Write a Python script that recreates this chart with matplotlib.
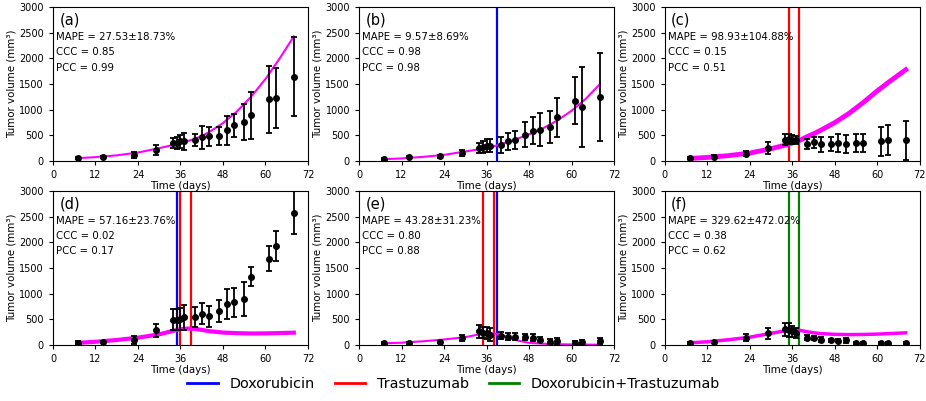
import matplotlib
matplotlib.use('Agg')
import matplotlib.pyplot as plt
from matplotlib.lines import Line2D

# measurement days (shared by all six groups)
days = [7, 14, 23, 29, 34, 35, 36, 37, 40, 42, 44, 47, 49, 51, 54, 56, 61, 63, 68]

mean_a = [65, 78, 110, 214, 351, 356, 382, 382, 415, 460, 479, 493, 596, 693, 760, 888, 1200, 1227, 1648]
sd_a = [20, 25, 60, 90, 104, 114, 127, 169, 117, 218, 179, 179, 286, 218, 347, 464, 659, 578, 779]
mean_b = [40, 78, 90, 155, 253, 273, 298, 298, 318, 382, 415, 512, 590, 610, 662, 849, 1175, 1052, 1247]
sd_b = [15, 20, 25, 55, 97, 114, 123, 130, 156, 169, 179, 240, 260, 318, 315, 386, 458, 779, 854]
mean_c = [52, 84, 143, 253, 415, 428, 415, 415, 337, 362, 323, 331, 351, 337, 351, 351, 382, 401, 401]
sd_c = [20, 25, 50, 110, 110, 100, 85, 80, 97, 107, 140, 136, 178, 175, 172, 172, 276, 292, 373]
mean_d = [46, 52, 98, 287, 489, 489, 503, 534, 542, 607, 554, 652, 796, 829, 894, 1325, 1683, 1924, 2577]
sd_d = [20, 20, 80, 125, 202, 205, 218, 235, 189, 202, 196, 215, 300, 277, 333, 186, 250, 295, 420]
mean_e = [33, 39, 59, 130, 261, 241, 228, 196, 176, 163, 163, 150, 143, 104, 59, 78, 39, 59, 72]
sd_e = [15, 15, 20, 60, 125, 110, 120, 130, 70, 75, 70, 60, 65, 55, 50, 65, 40, 45, 55]
mean_f = [39, 59, 143, 222, 300, 293, 261, 228, 143, 137, 104, 88, 85, 91, 33, 33, 33, 33, 33]
sd_f = [15, 15, 60, 110, 135, 130, 110, 100, 50, 45, 40, 35, 35, 50, 20, 15, 15, 15, 15]

# model curves
model_days = [7, 12, 18, 24, 30, 34, 36, 38, 40, 42, 44, 48, 52, 56, 60, 64, 68]
model_a = [55, 75, 110, 165, 250, 315, 350, 390, 430, 490, 560, 740, 970, 1260, 1600, 2000, 2430]
model_b = [35, 50, 80, 120, 185, 230, 255, 285, 330, 370, 415, 520, 640, 790, 980, 1210, 1500]
model_c = [50, 70, 105, 155, 240, 310, 350, 400, 470, 530, 600, 750, 930, 1140, 1370, 1580, 1780]
model_d = [40, 60, 95, 140, 205, 275, 305, 318, 312, 292, 268, 240, 228, 222, 224, 230, 238]
model_e = [30, 42, 70, 105, 150, 205, 225, 225, 200, 150, 95, 40, 22, 12, 8, 5, 3]
model_f = [40, 60, 100, 150, 225, 275, 300, 285, 258, 235, 220, 205, 200, 203, 210, 222, 235]

# treatment days: (day, drug)
treat_a = []
treat_b = [(39, 'dox')]
treat_c = [(35, 'tra'), (38, 'tra')]
treat_d = [(35, 'dox'), (36, 'tra'), (39, 'tra')]
treat_e = [(35, 'tra'), (38, 'tra'), (39, 'dox')]
treat_f = [(35, 'combo'), (38, 'combo')]

mape = ['27.53\u00b118.73%', '9.57\u00b18.69%', '98.93\u00b1104.88%',
        '57.16\u00b123.76%', '43.28\u00b131.23%', '329.62\u00b1472.02%']
ccc = ['0.85', '0.98', '0.15', '0.02', '0.80', '0.38']
pcc = ['0.99', '0.98', '0.51', '0.17', '0.88', '0.62']
letters = ['(a)', '(b)', '(c)', '(d)', '(e)', '(f)']

drug_color = {'dox': 'blue', 'tra': 'red', 'combo': 'green'}

means = [mean_a, mean_b, mean_c, mean_d, mean_e, mean_f]
sds = [sd_a, sd_b, sd_c, sd_d, sd_e, sd_f]
models = [model_a, model_b, model_c, model_d, model_e, model_f]
treats = [treat_a, treat_b, treat_c, treat_d, treat_e, treat_f]
model_lw = [1.5, 1.5, 3.5, 3, 1.5, 2.5]

fig = plt.figure(figsize=(9.26, 4.01), dpi=100)
lefts = [0.0572, 0.3877, 0.718]
bottoms = [0.5985, 0.140]
w, h = 0.2754, 0.3835

for i in range(6):
    ax = fig.add_axes([lefts[i % 3], bottoms[i // 3], w, h])
    for day, drug in treats[i]:
        ax.axvline(day, color=drug_color[drug], lw=1.6, zorder=1)
    ax.plot(model_days, models[i], color='magenta', lw=model_lw[i], zorder=2)
    ax.errorbar(days, means[i], yerr=sds[i], fmt='o', color='black', ms=4,
                elinewidth=1.3, capsize=2.5, capthick=1.3, zorder=3)
    ax.set_xlim(0, 72)
    ax.set_ylim(0, 3000)
    ax.set_xticks(range(0, 73, 12))
    ax.set_yticks(range(0, 3001, 500))
    ax.tick_params(labelsize=7, length=3)
    ax.set_xlabel('Time (days)', fontsize=7.4, labelpad=1)
    ax.set_ylabel('Tumor volume (mm\u00b3)', fontsize=7.4, labelpad=2)
    ax.text(0.025, 0.965, letters[i], transform=ax.transAxes, fontsize=10.5, va='top')
    ax.text(0.012, 0.84, 'MAPE = ' + mape[i], transform=ax.transAxes, fontsize=7.3, va='top')
    ax.text(0.012, 0.74, 'CCC = ' + ccc[i], transform=ax.transAxes, fontsize=7.3, va='top')
    ax.text(0.012, 0.64, 'PCC = ' + pcc[i], transform=ax.transAxes, fontsize=7.3, va='top')

handles = [Line2D([], [], color='blue', lw=2),
           Line2D([], [], color='red', lw=2),
           Line2D([], [], color='green', lw=2)]
fig.legend(handles, ['Doxorubicin', 'Trastuzumab', 'Doxorubicin+Trastuzumab'],
           loc='center', bbox_to_anchor=(0.49, 0.042), ncol=3, frameon=False,
           fontsize=10.4, columnspacing=1.4, handlelength=2.1)

fig.savefig('out.png', dpi=100)
